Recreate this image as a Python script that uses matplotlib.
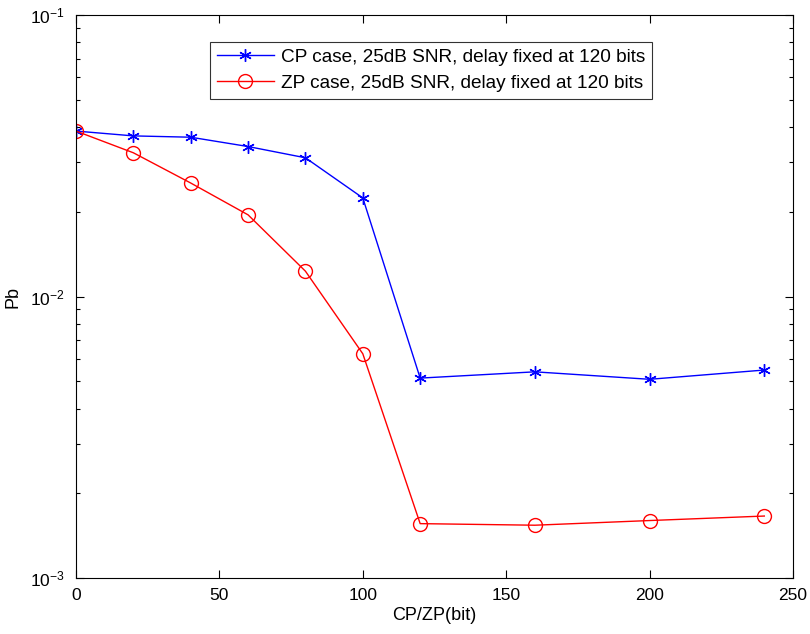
import matplotlib
matplotlib.use("Agg")
import matplotlib.pyplot as plt
from matplotlib.ticker import LogLocator, FixedLocator

plt.rcParams["font.family"] = ["Liberation Sans", "DejaVu Sans"]
plt.rcParams["mathtext.fontset"] = "custom"
plt.rcParams["mathtext.rm"] = "Liberation Sans"
plt.rcParams["mathtext.it"] = "Liberation Sans"
plt.rcParams["axes.unicode_minus"] = False

# guard length (bits) vs. bit error probability
cp_zp_bits = [0, 20, 40, 60, 80, 100, 120, 160, 200, 240]
pb_cp = [0.0387, 0.0372, 0.0368, 0.0341, 0.0311, 0.0224, 0.00513, 0.00540, 0.00508, 0.00548]
pb_zp = [0.0387, 0.0324, 0.0253, 0.0195, 0.0123, 0.00626, 0.00156, 0.00154, 0.00160, 0.00166]

label_cp = "CP case, 25dB SNR, delay fixed at 120 bits"
label_zp = "ZP case, 25dB SNR, delay fixed at 120 bits"

fig = plt.figure(figsize=(8.10, 6.34), dpi=100)
ax = fig.add_axes([76 / 810, 1 - 578 / 634, (793 - 76) / 810, (578 - 15) / 634])

ax.plot(cp_zp_bits, pb_cp, color="blue", lw=1.0, marker=(6, 2, 0),
        markersize=9, markeredgewidth=1.0, label=label_cp)
ax.plot(cp_zp_bits, pb_zp, color="red", lw=1.0, marker="o", markersize=10,
        markerfacecolor="none", markeredgewidth=1.0, label=label_zp)

ax.set_yscale("log")
ax.set_xlim(0, 250)
ax.set_ylim(1e-3, 1e-1)
ax.xaxis.set_major_locator(FixedLocator([0, 50, 100, 150, 200, 250]))
ax.yaxis.set_major_locator(LogLocator(base=10, numticks=5))
ax.yaxis.set_minor_locator(LogLocator(base=10, subs=range(2, 10), numticks=20))

ax.tick_params(which="both", direction="in", top=True, right=True, labelsize=12.5)
ax.tick_params(which="major", length=6, width=0.8)
ax.tick_params(which="minor", length=3, width=0.8)
ax.tick_params(axis="x", pad=7)
ax.tick_params(axis="y", pad=8)
for s in ax.spines.values():
    s.set_linewidth(0.8)

ax.set_xlabel("CP/ZP(bit)", fontsize=13, labelpad=3)
ax.set_ylabel("Pb", fontsize=13, labelpad=6)

leg = ax.legend(loc="upper left", bbox_to_anchor=(0.187, 0.952), fontsize=13.7,
                frameon=True, fancybox=False, edgecolor="black",
                handlelength=3.0, borderpad=0.35, labelspacing=0.45,
                handletextpad=0.4, borderaxespad=0)
leg.get_frame().set_linewidth(0.8)

fig.savefig("out.png", dpi=100)
